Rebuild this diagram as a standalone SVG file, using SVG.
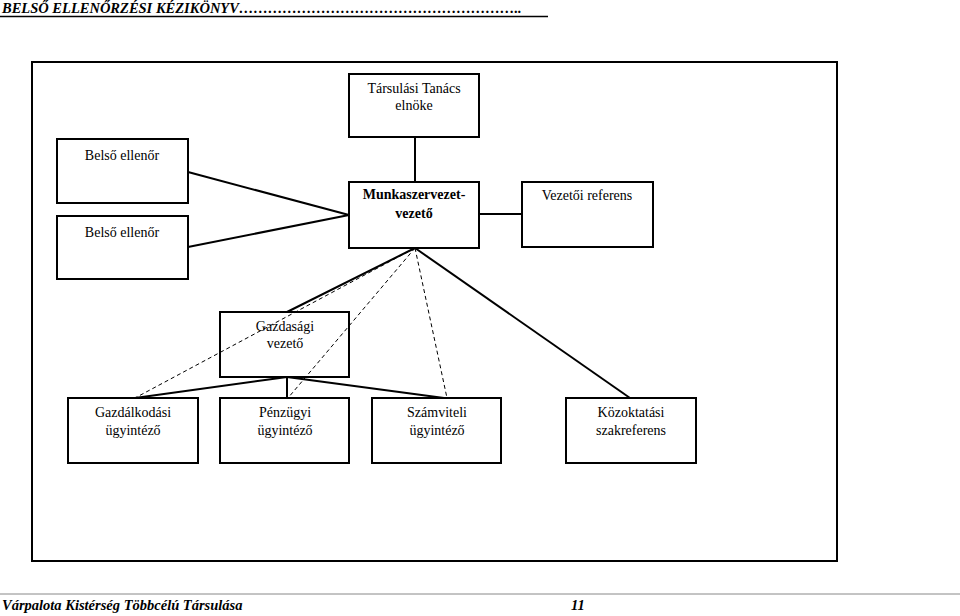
<svg xmlns="http://www.w3.org/2000/svg" width="960" height="616" viewBox="0 0 960 616">
<style>
.box{fill:#fff;stroke:#000;stroke-width:2}
.ln{stroke:#000;stroke-width:2;fill:none}
.ds{stroke:#000;stroke-width:1;stroke-dasharray:4,3;fill:none}
text{font-family:"Liberation Serif","Times New Roman",serif;font-size:14px;fill:#000}
.t{text-anchor:middle}
.b{font-weight:bold}
.hd{font-weight:bold;font-style:italic;font-size:14.5px}
</style>
<rect width="960" height="616" fill="#fff"/>
<g id="header">
<text class="hd" x="2" y="13">BELSŐ ELLENŐRZÉSI KÉZIKÖNYV…………………………………………………..</text>
<line x1="0" y1="16.5" x2="548" y2="16.5" stroke="#000" stroke-width="1.5"/>
</g>
<rect id="frame" x="32" y="62" width="805" height="499" fill="none" stroke="#000" stroke-width="2"/>
<g id="tarsulasi">
<rect class="box" x="349" y="74" width="130" height="63"/>
<text class="t" x="414" y="93">Társulási Tanács</text>
<text class="t" x="414" y="110">elnöke</text>
</g>
<g id="belso1">
<rect class="box" x="57" y="139" width="131" height="64"/>
<text class="t" x="122" y="160">Belső ellenőr</text>
</g>
<g id="belso2">
<rect class="box" x="57" y="216" width="131" height="63"/>
<text class="t" x="122" y="237">Belső ellenőr</text>
</g>
<g id="munkaszervezet">
<rect class="box" x="349" y="182" width="130" height="66"/>
<text class="t b" x="414" y="199">Munkaszervezet-</text>
<text class="t b" x="414" y="218">vezető</text>
</g>
<g id="vezetoi">
<rect class="box" x="522" y="182" width="131" height="65"/>
<text class="t" x="587" y="200">Vezetői referens</text>
</g>
<g id="gazdasagi">
<rect class="box" x="220" y="312" width="129" height="65"/>
<text class="t" x="285" y="331">Gazdasági</text>
<text class="t" x="285" y="348">vezető</text>
</g>
<g id="gazdalkodasi">
<rect class="box" x="68" y="398" width="130" height="65"/>
<text class="t" x="133" y="417">Gazdálkodási</text>
<text class="t" x="133" y="435">ügyintéző</text>
</g>
<g id="penzugyi">
<rect class="box" x="220" y="398" width="129" height="65"/>
<text class="t" x="285" y="417">Pénzügyi</text>
<text class="t" x="285" y="435">ügyintéző</text>
</g>
<g id="szamviteli">
<rect class="box" x="372" y="398" width="129" height="65"/>
<text class="t" x="437" y="417">Számviteli</text>
<text class="t" x="437" y="435">ügyintéző</text>
</g>
<g id="kozoktatasi">
<rect class="box" x="566" y="398" width="130" height="65"/>
<text class="t" x="631" y="417">Közoktatási</text>
<text class="t" x="631" y="435">szakreferens</text>
</g>
<g id="connectors">
<line class="ln" x1="415" y1="137" x2="415" y2="182"/>
<line class="ln" x1="188" y1="172" x2="349" y2="215"/>
<line class="ln" x1="188" y1="247" x2="349" y2="215"/>
<line class="ln" x1="479" y1="214" x2="522" y2="214"/>
<line class="ln" x1="415" y1="248" x2="287" y2="312"/>
<line class="ln" x1="415" y1="248" x2="630" y2="398"/>
<line class="ln" x1="287" y1="377" x2="135" y2="398"/>
<line class="ln" x1="287" y1="377" x2="287" y2="398"/>
<line class="ln" x1="287" y1="377" x2="444" y2="398"/>
<line class="ds" x1="415" y1="248" x2="135" y2="398"/>
<line class="ds" x1="415" y1="248" x2="288" y2="398"/>
<line class="ds" x1="415" y1="248" x2="447" y2="398"/>
</g>
<g id="footer">
<line x1="0" y1="594" x2="960" y2="594" stroke="#888" stroke-width="1"/>
<text class="hd" x="2" y="610">Várpalota Kistérség Többcélú Társulása</text>
<text class="hd" x="571" y="610">11</text>
</g>
</svg>
